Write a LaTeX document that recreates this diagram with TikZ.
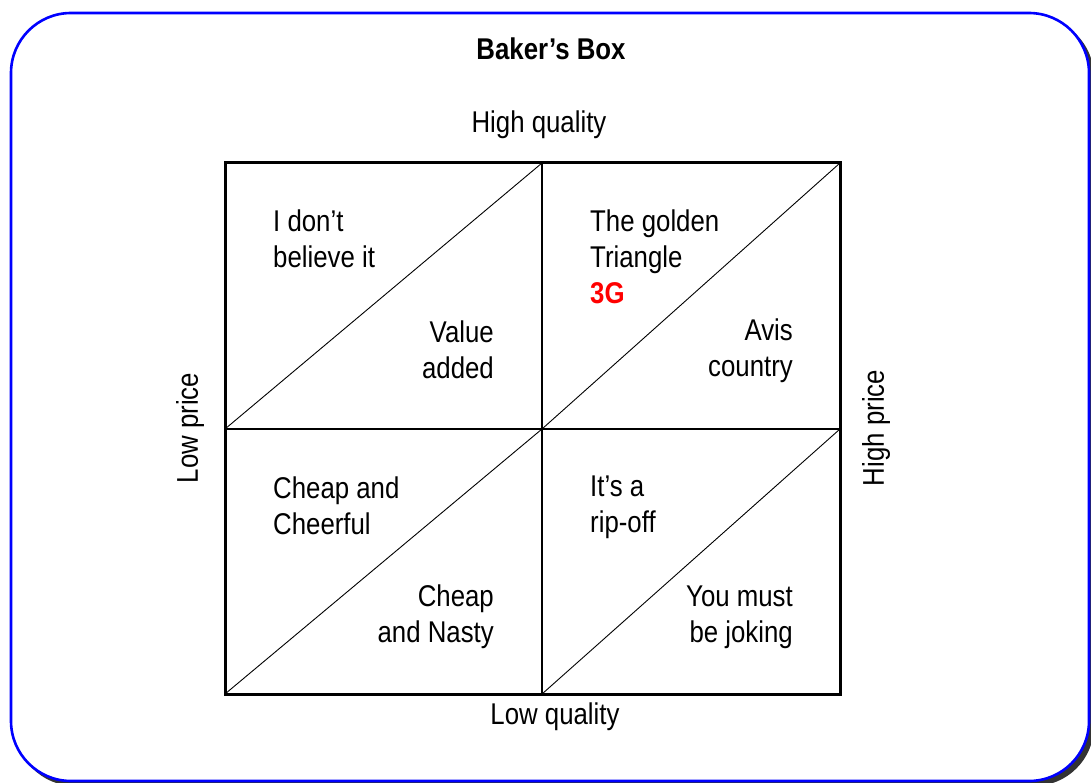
\documentclass[tikz,border=0pt]{standalone}
\usepackage{fontspec}
\setmainfont[FakeStretch=0.86]{Liberation Sans}
\begin{document}
\begin{tikzpicture}[x=1pt,y=-1pt,
  lbl/.style={inner sep=0pt,font=\fontsize{30}{36}\selectfont},
  lft/.style={lbl,align=left,anchor=west},
  rgt/.style={lbl,align=right,anchor=east},
  outer/.style={line width=3pt,line cap=rect},
  inner/.style={line width=2.2pt},
  diag/.style={line width=0.9pt},
  frame/.style={draw=blue,line width=2.6pt,rounded corners=60pt,fill=white},
  shadow/.style={fill=black!80,rounded corners=60pt}]
\useasboundingbox (0,0) rectangle (1091,783);
% frame
\fill[shadow] (15,17) rectangle (1094,786);
\draw[frame] (11,13) rectangle (1089,781);
% grid coordinates
\coordinate (tl) at (225,163);
\coordinate (tm) at (542,163);
\coordinate (tr) at (840,163);
\coordinate (ml) at (225,429);
\coordinate (mm) at (542,429);
\coordinate (mr) at (840,429);
\coordinate (bl) at (225,694);
\coordinate (bm) at (542,694);
\coordinate (br) at (840,694);
% diagonals
\draw[diag] (ml) -- (tm);
\draw[diag] (mm) -- (tr);
\draw[diag] (bl) -- (mm);
\draw[diag] (bm) -- (mr);
% inner lines
\draw[inner] (tm) -- (bm);
\draw[inner] (ml) -- (mr);
% outer box
\draw[outer] (tl) -- (tr) -- (br) -- (bl) -- cycle;
% labels
\node[lbl,font=\fontsize{30}{36}\selectfont\bfseries] (title) at (551,49) {Baker’s Box};
\node[lbl] (hq) at (539,125) {High quality};
\node[lbl] (lq) at (555,717) {Low quality};
\node[lbl,rotate=90] (lp) at (190,428) {Low price};
\node[lbl,rotate=90] (hp) at (876,428) {High price};
% cells
\node[lft] (c1a) at (273,239) {I don’t\\believe it};
\node[rgt] (c1b) at (494,350) {Value\\added};
\node[lft] (c2a) at (590,257) {The golden\\Triangle\\\textcolor{red}{\bfseries 3G}};
\node[rgt] (c2b) at (793,351) {Avis\\country};
\node[lft] (c3a) at (273,506) {Cheap and\\Cheerful};
\node[rgt] (c3b) at (494,617) {Cheap\\and Nasty};
\node[lft] (c4a) at (590,507) {It’s a\\rip-off};
\node[rgt] (c4b) at (793,617) {You must\\be joking};
\end{tikzpicture}
\end{document}
